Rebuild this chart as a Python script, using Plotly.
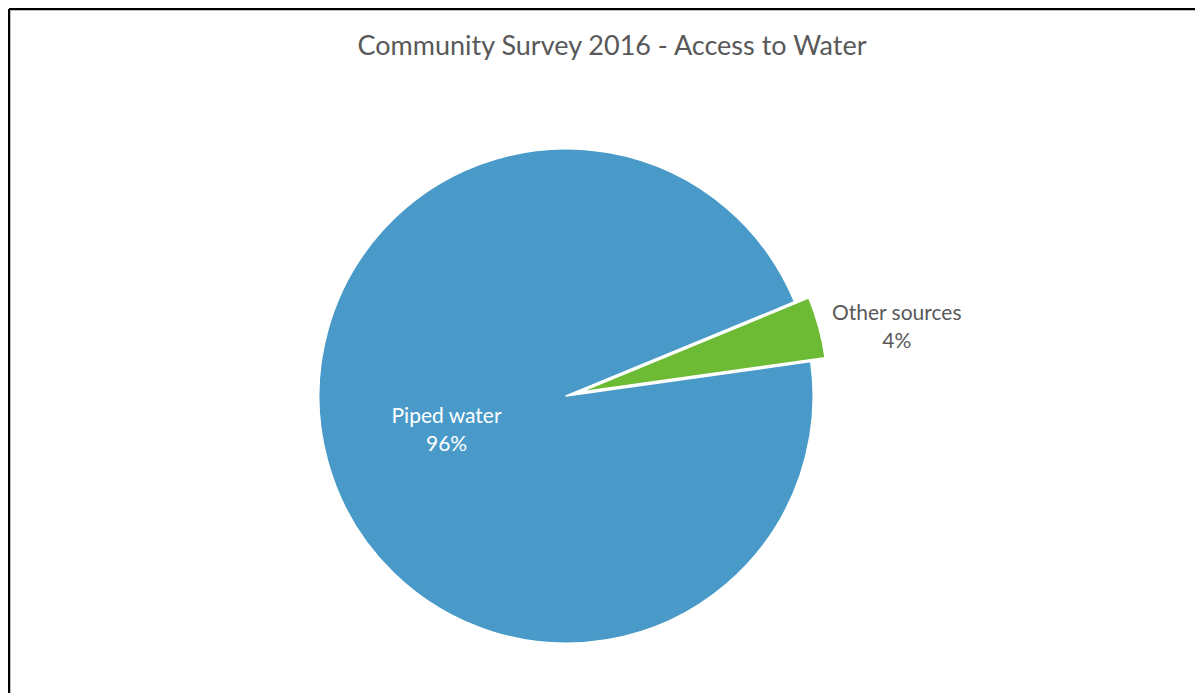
import plotly.graph_objects as go

categories = ["Piped water", "Other sources"]
values = [96, 4]
colors = ["#4A9AC9", "#6DBB35"]
pulls = [0, 0.06]
text_positions = ["inside", "outside"]
text_colors = ["#FFFFFF", "#595959"]

# page body adds an 8px offset; positions below are in figure pixels
OFF = 8
W, H = 1203, 693
cx, cy, r = 566 - OFF, 396 - OFF, 262

fig = go.Figure(go.Pie(
    labels=categories,
    values=values,
    sort=False,
    direction="clockwise",
    rotation=82,
    pull=pulls,
    marker=dict(colors=colors, line=dict(color="#FFFFFF", width=1.5)),
    texttemplate="%{label}<br>%{percent:.0%}",
    textposition=text_positions,
    insidetextorientation="horizontal",
    textfont=dict(family="Lato, Open Sans, sans-serif", size=21, color=text_colors),
    hoverinfo="label+percent",
    showlegend=False,
    domain=dict(x=[(cx - r) / W, (cx + r) / W], y=[1 - (cy + r) / H, 1 - (cy - r) / H]),
))

fig.update_layout(
    width=W, height=H,
    margin=dict(l=0, r=0, t=0, b=0),
    paper_bgcolor="#FFFFFF",
    plot_bgcolor="#FFFFFF",
    title=dict(
        text="Community Survey 2016 - Access to Water",
        x=(612 - OFF) / W, xanchor="center",
        y=1 - (46 - OFF) / H, yanchor="middle",
        font=dict(family="Lato, Open Sans, sans-serif", size=27, color="#595959"),
    ),
    shapes=[
        dict(type="line", xref="paper", yref="paper", x0=1 / W, x1=1, y0=1 - 1 / H, y1=1 - 1 / H,
             line=dict(color="#000000", width=2.5)),
        dict(type="line", xref="paper", yref="paper", x0=1 / W, x1=1 / W, y0=1 - 1 / H, y1=0,
             line=dict(color="#000000", width=2.5)),
    ],
)

fig.write_html("out.html")
